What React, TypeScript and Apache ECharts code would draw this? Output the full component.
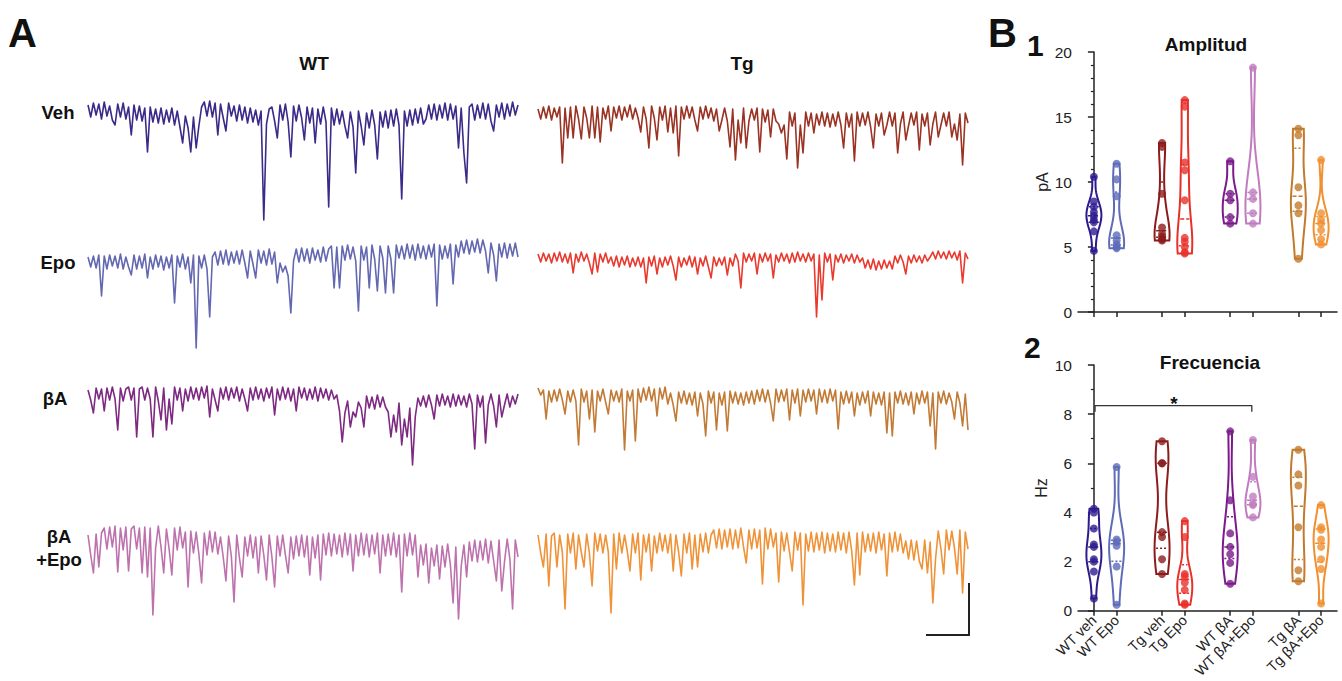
import React, { useEffect, useRef } from "react";
import * as echarts from "echarts";

const FONT = 'Arial, "Liberation Sans", Helvetica, sans-serif';

// ---------- Panel A traces (offset from baseline; negative = inward current) ----------
const wtVeh = [
  8, -4, 10, -2, 9, -6, 11, -3, 7, -7,
  -12, 9, -4, 10, -6, 6, -22, 8, -7, 7,
  -8, 5, -39, 6, -9, 4, -10, 5, -11, 3,
  -9, 5, -12, 2, -14, -30, -3, -15, -39, -4,
  -35, -13, 6, 11, -3, 12, -4, 10, -22, 9,
  -5, -18, 10, -3, 7, -8, 8, -7, 6, -10,
  5, -9, 3, -12, 2, -107, -11, 4, 6, -8,
  -25, 8, -7, 9, -9, -44, 7, -8, 8, -5,
  -27, 6, -10, 5, -30, 4, -11, 6, -9, -94,
  5, -12, 4, -11, 2, -13, -25, 1, -14, -60,
  2, -13, -32, 0, -15, 3, -12, -46, 1, -14,
  2, -15, 3, -13, 4, -12, -86, 2, -13, 3,
  -12, 4, -10, 5, -11, -6, 8, -6, 9, -7,
  8, -5, 10, -7, 9, -6, 7, -35, 5, -40,
  -70, 6, 9, -7, 8, -5, 10, -6, 9, -8,
  -18, 8, -4, 10, -6, 9, -3, 11, -2, 8,
];
const wtEpo = [
  6, -4, 7, -5, 8, -33, 7, -6, 8, -3,
  7, -5, 9, -6, 6, -4, -12, 8, -6, 7,
  -5, 9, -15, 6, -6, 8, -4, 7, -7, 6,
  -5, 8, -40, 7, -4, 9, -6, 6, -20, 8,
  -85, 7, -5, 8, -6, -54, 6, 11, -2, 12,
  -1, 13, -2, 11, 0, 12, -1, 13, 0, -15,
  12, -1, -15, 13, 0, 12, -2, 14, -1, 11,
  -20, 0, -9, -3, -13, -50, 2, 14, 1, 15,
  2, 14, 0, 15, 3, 13, 1, 16, 2, 14,
  17, -25, 16, -25, 17, 3, 18, 4, 16, 2,
  -48, 17, 3, 16, -25, 18, 4, -28, 17, 5,
  -30, 17, 4, -30, 18, 5, 17, 4, 19, 5,
  18, 3, 19, 5, 17, 4, 18, 6, 19, -43,
  18, 4, 17, 5, 19, -21, 18, 6, 22, 10,
  23, 9, 22, 11, 24, 10, 23, 12, -10, 20,
  8, -18, 19, 6, 20, 5, 19, 7, 20, 6,
];
const wtBA = [
  7, -3, -16, 9, -2, 8, -14, 9, -3, 10,
  -2, -33, 9, -4, 8, 10, -3, 9, -40, 8,
  10, -3, 9, -2, -40, 10, -4, -23, 9, -33,
  -2, -27, 10, -3, 9, -14, 8, -4, 10, -2,
  9, -3, 10, -1, 11, -20, 8, -3, -14, 9,
  -2, 10, -3, 9, -1, 10, -4, 8, -2, -14,
  9, -3, 10, -2, 8, -4, 9, -1, 10, -18,
  8, -3, 10, -2, 9, -4, 8, -14, 10, -1,
  9, -3, 8, -2, 10, -4, 9, -1, 8, -3,
  7, -2, 2, -14, -45, -16, -4, -30, -15, -20,
  -5, -11, -30, 1, -11, 0, -12, 2, -10, 0,
  -10, -15, -40, -18, -35, -6, -48, -22, -40, -11,
  -68, -20, -1, -9, 1, -10, 2, -8, -22, 2,
  -9, 3, -8, 1, -10, 3, -9, 2, -8, 1,
  -10, 3, -7, -52, 2, -10, 1, -46, -8, 3,
  -9, -30, 2, -20, -8, 3, -10, 1, -7, 3,
];
const wtBAEpo = [
  12, -8, -26, 13, -20, 14, 19, -2, 20, 0,
  21, -25, 19, -3, 20, -24, 18, 21, -2, 19,
  -26, 20, -30, 19, -68, -1, 21, 0, -26, 18,
  -2, -28, 19, -3, 20, -1, 15, -40, 16, -6,
  15, -7, -36, 14, -8, 16, -5, 15, -7, 10,
  -10, -34, 11, -9, -55, 12, -11, -30, 10, -9,
  12, -11, 10, -26, 11, -8, -33, 12, -10, -40,
  11, -9, 12, -8, -26, 10, -12, 11, -9, 12,
  -10, 11, -28, 10, -11, 12, -33, 13, -8, 14,
  -9, 13, -7, 12, -10, 14, -8, 13, -24, 12,
  -9, 14, -8, 13, -10, 12, -7, 14, -26, 12,
  -9, 13, -8, 14, -10, 12, -45, 13, -9, 14,
  -8, 12, -30, 2, -18, 3, -36, -1, -19, 2,
  -32, 1, -20, 3, -18, -56, 0, -72, -19, 2,
  -30, 5, -14, 7, -15, 6, -13, 8, -16, 6,
  -14, -34, 7, -44, -15, 8, -12, -62, 7, -10,
];
const tgVeh = [
  6, -4, 8, -3, 9, -5, 7, -2, 8, -48,
  7, -23, 8, -23, 9, -4, -24, 8, -3, -23,
  9, -23, 8, -27, 7, -4, 9, -16, 8, -3,
  9, -5, 8, -2, 10, -4, 7, -3, -17, 8,
  -4, -33, 9, -3, -25, 8, -5, 9, -17, 7,
  -18, 9, -41, 8, -4, 9, -3, 8, -5, -16,
  8, -4, 9, -3, 7, -6, 6, -16, -5, 7,
  -6, -32, 6, -45, -5, -28, 7, -33, -6, 6,
  -5, 7, -37, 6, -7, 5, -22, 6, -6, -9,
  -18, -10, -44, 3, -11, 2, -53, -10, -38, 3,
  -11, 2, -18, 1, -10, 3, -11, 2, -12, 1,
  -11, 3, -10, -33, 2, -12, 1, -46, 3, -11,
  2, -10, 3, -12, -33, 1, -11, 2, -20, -10,
  3, -11, 2, -38, -9, 3, -25, -11, 2, -10,
  3, -35, 1, -11, 2, -30, -9, 3, -22, -10,
  2, -11, 3, -22, -9, -25, 1, -50, 2, -8,
];
const tgEpo = [
  6, -2, 7, -1, 6, -3, 7, -1, 8, -2,
  6, -3, 7, -13, 6, -2, 8, -1, 6, -3,
  -14, 7, -12, 6, -2, 7, -3, 3, -6, 4,
  -7, 3, -5, 4, -7, 2, -6, 3, -7, 2,
  -23, 3, -6, 4, -14, 2, -7, 3, -5, 4,
  -6, -20, 3, -7, 2, -5, 4, -7, 3, -14,
  2, -6, 4, -7, -18, 3, -6, 2, -5, 3,
  -15, 2, -6, 6, -1, -28, 7, -2, 6, -1,
  7, -14, 6, -2, 7, -1, 6, -18, 5, -2,
  7, -1, 6, -3, 7, -2, 8, -1, 6, -2,
  7, -1, 6, -57, 5, -40, 7, -2, 6, -20,
  5, -2, 6, -3, 5, -1, 6, -3, 5, -2,
  2, -8, 0, -9, 1, -10, -1, -9, 0, -8,
  -1, -9, 4, -3, 5, -2, -14, 4, -3, 5,
  -2, 4, -3, 5, -1, 3, 8, 1, 9, 2,
  8, 1, 9, 2, 8, 0, 9, -23, 7, 1,
];
const tgBA = [
  10, 3, 8, -21, 7, -4, 8, -3, 9, -2,
  -16, 7, -4, 8, -3, -47, 9, -4, 7, -21,
  8, -34, 7, -3, 9, -4, -16, 8, -3, 7,
  -4, 9, -52, 7, -3, 8, -43, 9, -4, 10,
  -2, 11, -3, 9, -18, 10, -1, 11, -6, 5,
  -7, -23, 6, -5, 7, -6, 5, -7, 6, -18,
  5, -6, -38, 7, -5, 6, -32, 5, -7, 6,
  -33, 7, -5, 6, -6, 5, -7, 6, -5, 7,
  -6, 8, -3, 9, -4, 8, -5, -23, 9, -4,
  8, -3, 9, -22, 8, -5, 9, -18, 8, -4,
  9, -3, 8, -16, 9, -4, 8, -5, 9, -3,
  8, -31, 6, -6, 7, -5, 6, -18, 5, -7,
  6, -5, 7, -18, 6, -6, 5, -7, 6, -35,
  5, -38, 6, -5, 7, -6, 5, -7, 6, -16,
  5, -6, 7, -5, 6, -28, 5, -51, 6, -5,
  7, -6, 5, -4, -21, 6, -5, -28, 4, -32,
];
const tgBAEpo = [
  10, -8, -22, 11, -41, 9, 12, -22, 10, -7,
  -64, 11, -8, 12, -24, 10, -7, -22, 11, -8,
  -41, 12, -6, 11, -8, 10, -7, -68, 11, -24,
  12, -8, 10, -6, -26, 11, -8, 12, -35, 10,
  -7, 11, -26, 9, -8, 12, -6, 10, -8, 11,
  -26, 10, -7, -31, 11, -8, 12, -24, 10, -22,
  11, -7, 12, -8, 10, 15, -3, 16, -4, 15,
  -2, 16, -4, 15, -3, 17, -2, -18, 15, -4,
  16, -3, 15, -39, 17, -4, 16, -2, 12, -37,
  13, -6, 12, -7, -26, 13, -5, 12, -60, 11,
  -6, 13, -7, 12, -5, 13, -8, 12, -6, 11,
  -7, 13, -5, 12, -8, 13, -6, -40, 12, -30,
  13, -7, 11, -6, 12, -8, 13, -5, 11, -31,
  12, -7, 13, -6, 11, -8, 4, -14, 5, -15,
  4, -16, -24, 5, -28, 3, -58, -14, 14, -4,
  -29, 15, -5, 14, -3, -29, 15, -48, 13, -4,
];

// ---------- Panel B data ----------
const groupNames = ["WT veh", "WT Epo", "Tg veh", "Tg Epo", "WT βA", "WT βA+Epo", "Tg βA", "Tg βA+Epo"];
const groupPos = [0, 1, 3, 4, 6, 7, 9, 10];
const groupColors = ["#2D1B8E", "#5E6CB8", "#8C1C1C", "#E8302A", "#7B1A8A", "#C07CBF", "#C27A2C", "#F09030"];

const ampWTveh = [10.4, 8.5, 8.1, 7.7, 7.4, 7.1, 6.9, 6.2, 4.7];
const ampWTepo = [11.4, 10.2, 8.9, 5.9, 5.5, 5.2, 5.0, 4.9];
const ampTGveh = [13.0, 12.7, 9.1, 6.5, 6.0, 5.8, 5.6, 5.5];
const ampTGepo = [16.3, 15.8, 11.5, 10.9, 8.6, 5.7, 5.4, 5.0, 4.6, 4.5];
const ampWTba = [11.6, 9.1, 8.6, 7.3, 6.8];
const ampWTbaEpo = [18.8, 9.2, 8.7, 7.6, 6.8];
const ampTGba = [14.1, 13.6, 9.6, 8.2, 7.6, 4.1];
const ampTGbaEpo = [11.7, 7.6, 7.1, 6.8, 6.3, 5.6, 5.2];

const freqWTveh = [4.15, 4.0, 3.35, 2.7, 2.6, 2.1, 2.0, 1.6, 0.5];
const freqWTepo = [5.85, 2.9, 2.8, 2.65, 1.8, 0.25];
const freqTGveh = [6.9, 6.0, 6.0, 3.2, 3.0, 2.1, 1.5];
const freqTGepo = [3.65, 3.0, 1.5, 1.4, 1.15, 0.85, 0.3, 0.25];
const freqWTba = [7.3, 4.5, 3.15, 2.6, 2.3, 1.95, 1.1];
const freqWTbaEpo = [6.95, 5.45, 4.65, 4.35, 4.3, 3.8];
const freqTGba = [6.55, 5.55, 5.1, 3.4, 1.65, 1.2];
const freqTGbaEpo = [4.3, 3.4, 3.3, 2.9, 2.6, 2.1, 1.7, 0.3];

const ampGroups = [ampWTveh, ampWTepo, ampTGveh, ampTGepo, ampWTba, ampWTbaEpo, ampTGba, ampTGbaEpo];
const freqGroups = [freqWTveh, freqWTepo, freqTGveh, freqTGepo, freqWTba, freqWTbaEpo, freqTGba, freqTGbaEpo];
const sigBracket = [[0.05, 8.1], [0.05, 8.35], [6.95, 8.35], [6.95, 8.1]];

// trace layout (position/style only)
const traces = [
  { data: wtVeh, color: "#3C2A88", left: 88, base: 113 },
  { data: wtEpo, color: "#6468B0", left: 88, base: 263 },
  { data: wtBA, color: "#7E2A82", left: 88, base: 397 },
  { data: wtBAEpo, color: "#BD72AE", left: 88, base: 547 },
  { data: tgVeh, color: "#9A3324", left: 538, base: 115 },
  { data: tgEpo, color: "#E83A2E", left: 538, base: 260 },
  { data: tgBA, color: "#C27B36", left: 538, base: 398 },
  { data: tgBAEpo, color: "#EF9238", left: 538, base: 545 },
];

function quantile(sorted: number[], q: number) {
  const pos = (sorted.length - 1) * q;
  const lo = Math.floor(pos);
  const hi = Math.ceil(pos);
  return sorted[lo] + (sorted[hi] - sorted[lo]) * (pos - lo);
}

function violinSeries(axisIdx: number, groups: number[][]) {
  return {
    type: "custom",
    xAxisIndex: axisIdx,
    yAxisIndex: axisIdx,
    z: 2,
    silent: true,
    data: groups.map((g, i) => [groupPos[i], quantile([...g].sort((a, b) => a - b), 0.5)]),
    renderItem: (params: any, api: any) => {
      const i = params.dataIndex;
      const vals = groups[i];
      const sorted = [...vals].sort((a, b) => a - b);
      const n = vals.length;
      const mn = sorted[0];
      const mx = sorted[n - 1];
      const mean = vals.reduce((s, v) => s + v, 0) / n;
      const sd = Math.sqrt(vals.reduce((s, v) => s + (v - mean) * (v - mean), 0) / (n - 1));
      const h = Math.max(0.7 * 1.06 * sd * Math.pow(n, -0.2), 0.15);
      const steps = 48;
      const dens: number[] = [];
      const ys: number[] = [];
      for (let k = 0; k <= steps; k++) {
        const y = mn + ((mx - mn) * k) / steps;
        let d = 0;
        for (const v of vals) d += Math.exp(-0.5 * ((y - v) / h) * ((y - v) / h));
        ys.push(y);
        dens.push(d);
      }
      const maxD = Math.max(...dens);
      const halfW = 7.5;
      const x = groupPos[i];
      const left: number[][] = [];
      const right: number[][] = [];
      const widthAt = (y: number) => {
        let d = 0;
        for (const v of vals) d += Math.exp(-0.5 * ((y - v) / h) * ((y - v) / h));
        return (halfW * d) / maxD;
      };
      for (let k = 0; k <= steps; k++) {
        const p = api.coord([x, ys[k]]);
        const w = (halfW * dens[k]) / maxD;
        left.push([p[0] - w, p[1]]);
        right.push([p[0] + w, p[1]]);
      }
      const pts = left.concat(right.reverse());
      const color = groupColors[i];
      const children: any[] = [
        {
          type: "polygon",
          shape: { points: pts },
          style: { fill: "#ffffff", stroke: color, lineWidth: 2 },
        },
      ];
      const qs = [
        { q: 0.5, dash: [4, 2] },
        { q: 0.25, dash: [2, 2] },
        { q: 0.75, dash: [2, 2] },
      ];
      qs.forEach((o) => {
        const y = quantile(sorted, o.q);
        const p = api.coord([x, y]);
        const w = Math.max(widthAt(y) - 1.5, 1);
        children.push({
          type: "line",
          shape: { x1: p[0] - w, y1: p[1], x2: p[0] + w, y2: p[1] },
          style: { stroke: color, lineWidth: 1.5, lineDash: o.dash },
        });
      });
      return { type: "group", children };
    },
  };
}

function pointsSeries(axisIdx: number, groups: number[][]) {
  const data: any[] = [];
  groups.forEach((g, i) => {
    g.forEach((v) => {
      data.push({ value: [groupPos[i], v], itemStyle: { color: groupColors[i] } });
    });
  });
  return {
    type: "scatter",
    xAxisIndex: axisIdx,
    yAxisIndex: axisIdx,
    z: 3,
    symbolSize: 8,
    silent: true,
    data,
  };
}

export default function App() {
  const ref = useRef<HTMLDivElement>(null);
  useEffect(() => {
    if (!ref.current) return;
    const chart = echarts.init(ref.current, null, { renderer: "svg" });

    const grids: any[] = [];
    const xAxes: any[] = [];
    const yAxes: any[] = [];
    const series: any[] = [];

    traces.forEach((t, idx) => {
      grids.push({ left: t.left, top: t.base - 30, width: 430, height: 150 });
      xAxes.push({
        type: "category",
        gridIndex: idx,
        show: false,
        boundaryGap: false,
        data: t.data.map((_, k) => k),
      });
      yAxes.push({ type: "value", gridIndex: idx, show: false, min: -120, max: 30 });
      series.push({
        type: "line",
        xAxisIndex: idx,
        yAxisIndex: idx,
        data: t.data,
        symbol: "none",
        lineStyle: { color: t.color, width: 1.6, join: "round" },
        silent: true,
      });
    });

    const axisColor = "#222";
    const bAxisX = (idx: number, showLabels: boolean) => ({
      type: "value",
      gridIndex: idx,
      min: -0.7,
      max: 10.7,
      splitLine: { show: false },
      axisLine: { show: true, lineStyle: { color: axisColor, width: 1.5 } },
      axisTick: {
        show: true,
        customValues: groupPos,
        length: 5,
        lineStyle: { color: axisColor, width: 1.5 },
      },
      axisLabel: showLabels
        ? {
            show: true,
            customValues: groupPos,
            rotate: 45,
            margin: 7,
            fontSize: 14.5,
            fontFamily: FONT,
            color: axisColor,
            formatter: (v: number) => {
              const k = groupPos.indexOf(Math.round(v));
              return k >= 0 ? groupNames[k] : "";
            },
          }
        : { show: false },
    });
    const bAxisY = (idx: number, max: number, interval: number, minorSplit: number, name: string, gap: number) => ({
      type: "value",
      gridIndex: idx,
      min: 0,
      max,
      interval,
      name,
      nameLocation: "middle",
      nameGap: gap,
      nameRotate: 90,
      nameTextStyle: { fontSize: 16, fontFamily: FONT, color: axisColor },
      splitLine: { show: false },
      axisLine: { show: true, lineStyle: { color: axisColor, width: 1.5 } },
      axisTick: { show: true, length: 6, lineStyle: { color: axisColor, width: 1.5 } },
      minorTick: { show: true, splitNumber: minorSplit, length: 3, lineStyle: { color: axisColor, width: 1.2 } },
      axisLabel: { fontSize: 15.5, fontFamily: FONT, color: axisColor, margin: 6 },
    });

    // B1
    grids.push({ left: 1078, top: 52, width: 259, height: 260 });
    xAxes.push(bAxisX(8, false));
    yAxes.push(bAxisY(8, 20, 5, 5, "pA", 27));
    // B2
    grids.push({ left: 1078, top: 365, width: 259, height: 252 });
    xAxes.push(bAxisX(9, true));
    yAxes.push(bAxisY(9, 10, 2, 2, "Hz", 29));

    series.push(violinSeries(8, ampGroups));
    series.push(pointsSeries(8, ampGroups));
    series.push(violinSeries(9, freqGroups));
    series.push(pointsSeries(9, freqGroups));
    series.push({
      type: "line",
      xAxisIndex: 9,
      yAxisIndex: 9,
      data: sigBracket,
      symbol: "none",
      silent: true,
      lineStyle: { color: "#333", width: 1.3 },
      z: 4,
    });

    const txt = (x: number, y: number, text: string, size: number, align = "center", weight = "bold") => ({
      type: "text",
      x,
      y,
      silent: true,
      style: {
        text,
        fontSize: size,
        fontWeight: weight,
        fontFamily: FONT,
        fill: "#111",
        align,
        verticalAlign: "middle",
        lineHeight: size * 1.25,
      },
    });

    chart.setOption({
      animation: false,
      backgroundColor: "#ffffff",
      grid: grids,
      xAxis: xAxes,
      yAxis: yAxes,
      series,
      graphic: [
        txt(8, 33, "A", 40, "left"),
        txt(988, 33, "B", 40, "left"),
        txt(1027, 45, "1", 30, "left"),
        txt(1024, 347, "2", 30, "left"),
        txt(314, 63, "WT", 19),
        txt(742, 63, "Tg", 19),
        txt(58, 112, "Veh", 18.5),
        txt(58, 262, "Epo", 18.5),
        txt(55, 398, "βA", 18.5),
        txt(59, 548, "βA\n+Epo", 18.5),
        txt(1206, 44, "Amplitud", 19),
        txt(1210, 362, "Frecuencia", 19),
        txt(1174, 403, "*", 19),
        {
          type: "polyline",
          silent: true,
          shape: { points: [[969, 583], [969, 635], [926, 635]] },
          style: { stroke: "#222", lineWidth: 2, fill: null },
        },
      ],
    });
    return () => chart.dispose();
  }, []);
  return (
    <div
      ref={ref}
      style={{ position: "fixed", left: 0, top: 0, width: 1342, height: 681, background: "#fff" }}
    />
  );
}
